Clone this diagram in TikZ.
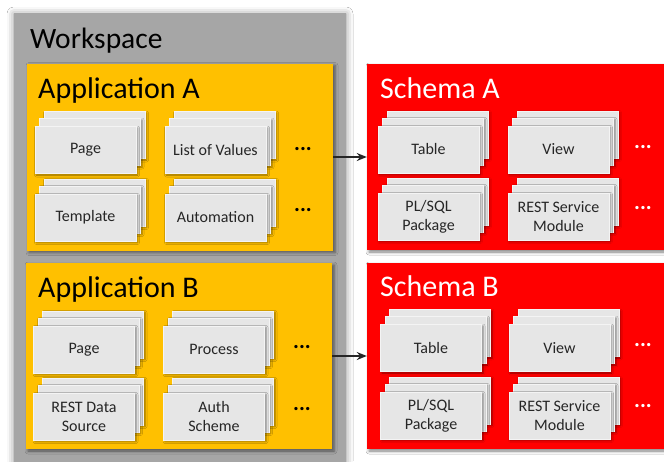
\documentclass[tikz,border=0pt]{standalone}
\usepackage{fontspec}
\setmainfont{Carlito}
\usetikzlibrary{shadows.blur,arrows.meta}

\definecolor{wsgray}{HTML}{A6A6A6}
\definecolor{appyellow}{HTML}{FFC000}
\definecolor{schred}{HTML}{FF0000}
\definecolor{cardgray}{HTML}{E6E6E6}
\definecolor{cardtext}{HTML}{262626}

\tikzset{
  wsbox/.style={fill=wsgray, draw=none,
    blur shadow={shadow xshift=0pt, shadow yshift=-1pt, shadow blur radius=7pt, shadow opacity=45}},
  container/.style={draw=none, inner sep=0pt,
    blur shadow={shadow xshift=2pt, shadow yshift=-2pt, shadow blur radius=3pt, shadow opacity=50}},
  appbox/.style={container, fill=appyellow},
  schbox/.style={container, fill=schred},
  title/.style={anchor=base west, inner sep=0pt, font=\fontsize{30}{31}\selectfont},
  card/.style={fill=cardgray, draw=white!55!cardgray, line width=0.5pt,
    minimum width=101pt, minimum height=47pt, inner sep=0pt, align=center,
    font=\fontsize{16}{19}\selectfont, text=cardtext,
    blur shadow={shadow xshift=1.5pt, shadow yshift=-1.5pt, shadow blur radius=2pt, shadow opacity=45}},
  more/.style={anchor=base, inner sep=0pt, font=\bfseries\fontsize{22}{22}\selectfont},
  link/.style={-{Stealth[length=10pt,width=8pt]}, line width=1.5pt, draw=black!85},
}

% a stack of three cards; the front one carries the label
\newcommand\cardstack[4]{%
  \node[card] (#1-b2) at (#2+9,#3-14) {};
  \node[card] (#1-b1) at (#2+4.5,#3-7) {};
  \node[card] (#1) at (#2,#3+1) {#4};
}

\begin{document}
\begin{tikzpicture}[x=1pt, y=-1pt]
  \useasboundingbox (0,0) rectangle (664,461);
  \clip (0,0) rectangle (664,461);
  \fill[white] (0,0) rectangle (664,461);

  % workspace
  \node[wsbox, minimum width=332pt, minimum height=480pt] (ws) at (180,253) {};
  \node[title, font=\fontsize{29.5}{30}\selectfont] (wstitle) at (30,48) {Workspace};

  % application A
  \node[appbox, minimum width=306pt, minimum height=187pt] (appA) at (180,157) {};
  \node[title] (appAtitle) at (38,98) {Application A};
  \cardstack{aPage}{85.5}{149}{Page}
  \cardstack{aLov}{215.5}{149}{List of Values}
  \cardstack{aTpl}{85.5}{216.5}{Template}
  \cardstack{aAuto}{215.5}{216.5}{Automation}
  \node[more] (aMore1) at (303,150) {...};
  \node[more] (aMore2) at (303,211) {...};

  % application B
  \node[appbox, minimum width=306pt, minimum height=186pt] (appB) at (179,356) {};
  \node[title] (appBtitle) at (38,297) {Application B};
  \cardstack{bPage}{84}{348.5}{Page}
  \cardstack{bProc}{214}{348.5}{Process}
  \cardstack{bRest}{84}{415.5}{REST Data\\Source}
  \cardstack{bAuth}{214}{415.5}{Auth\\Scheme}
  \node[more] (bMore1) at (302,348) {...};
  \node[more] (bMore2) at (302,410) {...};

  % schema A
  \node[schbox, minimum width=333pt, minimum height=186pt] (schA) at (533.5,157) {};
  \node[title, text=white] (schAtitle) at (380,98) {Schema A};
  \cardstack{sATable}{428.5}{148.5}{Table}
  \cardstack{sAView}{558.5}{148.5}{View}
  \cardstack{sAPlsql}{428.5}{215.5}{PL/SQL\\Package}
  \cardstack{sARest}{558.5}{215.5}{REST Service\\Module}
  \node[more, text=white] (sAMore1) at (643,148) {...};
  \node[more, text=white] (sAMore2) at (643,209) {...};

  % schema B
  \node[schbox, minimum width=333pt, minimum height=186pt] (schB) at (533.5,356) {};
  \node[title, text=white] (schBtitle) at (380,296) {Schema B};
  \cardstack{sBTable}{431}{347}{Table}
  \cardstack{sBView}{559.5}{347}{View}
  \cardstack{sBPlsql}{431}{414.5}{PL/SQL\\Package}
  \cardstack{sBRest}{559.5}{414.5}{REST Service\\Module}
  \node[more, text=white] (sBMore1) at (643,346) {...};
  \node[more, text=white] (sBMore2) at (643,407) {...};

  % each application maps onto its schema
  \draw[link] (appA.east) -- (schA.west);
  \draw[link] (appB.east) -- (schB.west);
\end{tikzpicture}
\end{document}
